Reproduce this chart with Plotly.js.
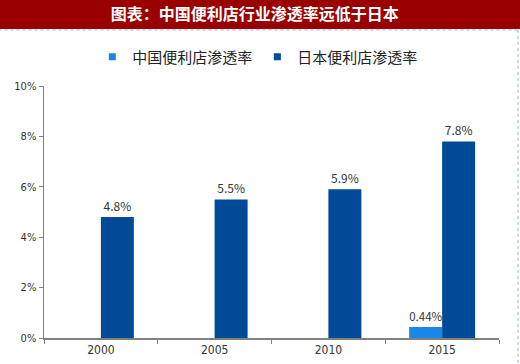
<!DOCTYPE html>
<html>
<head>
<meta charset="utf-8">
<script src="https://cdn.plot.ly/plotly-3.0.1.min.js"></script>
<style>html,body{margin:0;padding:0;background:#fff;}#chart{width:520px;height:364px;}</style>
</head>
<body>
<div id="chart"></div>
<script>
var years = ['2000', '2005', '2010', '2015'];
var chinaRate = [null, null, null, 0.44];
var japanRate = [4.8, 5.5, 5.9, 7.8];
var seriesNames = ['中国便利店渗透率', '日本便利店渗透率'];
var yTicks = [0, 2, 4, 6, 8, 10];
var chartTitle = '图表：中国便利店行业渗透率远低于日本';

var chinaColor = '#1a86e8';
var japanColor = '#004a97';
var labelFont = {family: 'Noto Sans CJK SC, DejaVu Sans', size: 12, color: '#333333'};

var traces = [
  {type: 'bar', x: years, y: chinaRate, name: seriesNames[0], showlegend: false,
   marker: {color: chinaColor}, text: chinaRate.map(function(v){return v == null ? '' : v + '%';}),
   textposition: 'outside', textfont: labelFont, cliponaxis: false, hoverinfo: 'none'},
  {type: 'bar', x: years, y: japanRate, name: seriesNames[1], showlegend: false,
   marker: {color: japanColor}, text: japanRate.map(function(v){return v + '%';}),
   textposition: 'outside', textfont: labelFont, cliponaxis: false, hoverinfo: 'none'},
  {type: 'scatter', mode: 'markers', x: [null], y: [null], name: seriesNames[0],
   marker: {symbol: 'square', size: 7, color: chinaColor}, hoverinfo: 'none'},
  {type: 'scatter', mode: 'markers', x: [null], y: [null], name: seriesNames[1],
   marker: {symbol: 'square', size: 7, color: japanColor}, hoverinfo: 'none'}
];

var layout = {
  width: 520, height: 364,
  margin: {l: 44, r: 21, t: 86, b: 26},
  paper_bgcolor: '#ffffff', plot_bgcolor: '#ffffff',
  barmode: 'group', bargap: 0.42, bargroupgap: 0,
  showlegend: true,
  title: {text: chartTitle, x: 0.49, xref: 'container', xanchor: 'center',
          y: 1 - 14/364, yref: 'container', yanchor: 'middle',
          font: {family: 'Noto Sans CJK SC', size: 16, color: '#ffffff', weight: 'bold'}},
  legend: {orientation: 'h', x: 0.47, xanchor: 'center', y: 1.115, yanchor: 'middle',
           font: {family: 'Noto Sans CJK SC', size: 15, color: '#222222'},
           itemwidth: 30, traceorder: 'normal', bgcolor: 'rgba(0,0,0,0)'},
  xaxis: {type: 'category', showgrid: false, zeroline: false, showline: true,
          linecolor: '#808080', linewidth: 1.5, ticks: 'outside', tickson: 'boundaries',
          ticklen: 4, tickcolor: '#808080',
          tickfont: {family: 'DejaVu Sans Condensed, Liberation Sans Narrow', size: 12, color: '#333333'},
          fixedrange: true},
  yaxis: {range: [0, 10], tickvals: yTicks, ticktext: yTicks.map(function(v){return v + '%';}),
          showgrid: false, zeroline: false, showline: true, linecolor: '#808080', linewidth: 1.5,
          ticks: 'outside', ticklen: 4, tickcolor: '#808080',
          tickfont: {family: 'Liberation Sans Narrow, DejaVu Sans Condensed', size: 11, color: '#333333'},
          fixedrange: true},
  shapes: [
    {type: 'rect', xref: 'paper', yref: 'paper', x0: -0.1, x1: 1.05,
     y0: (338 - 29) / 252, y1: 1.36, fillcolor: '#990000', line: {width: 0}, layer: 'below'},
    {type: 'line', xref: 'paper', yref: 'paper', x0: -0.1, x1: (518 - 44) / 455,
     y0: (338 - 30) / 252, y1: (338 - 30) / 252, line: {color: '#8fb4e6', width: 1, dash: 'dot'}},
    {type: 'line', xref: 'paper', yref: 'paper', x0: (518 - 44) / 455, x1: (518 - 44) / 455,
     y0: (338 - 30) / 252, y1: -0.2, line: {color: '#8fb4e6', width: 1, dash: 'dot'}}
  ]
};

Plotly.newPlot('chart', traces, layout, {displayModeBar: false, staticPlot: true});
</script>
</body>
</html>
